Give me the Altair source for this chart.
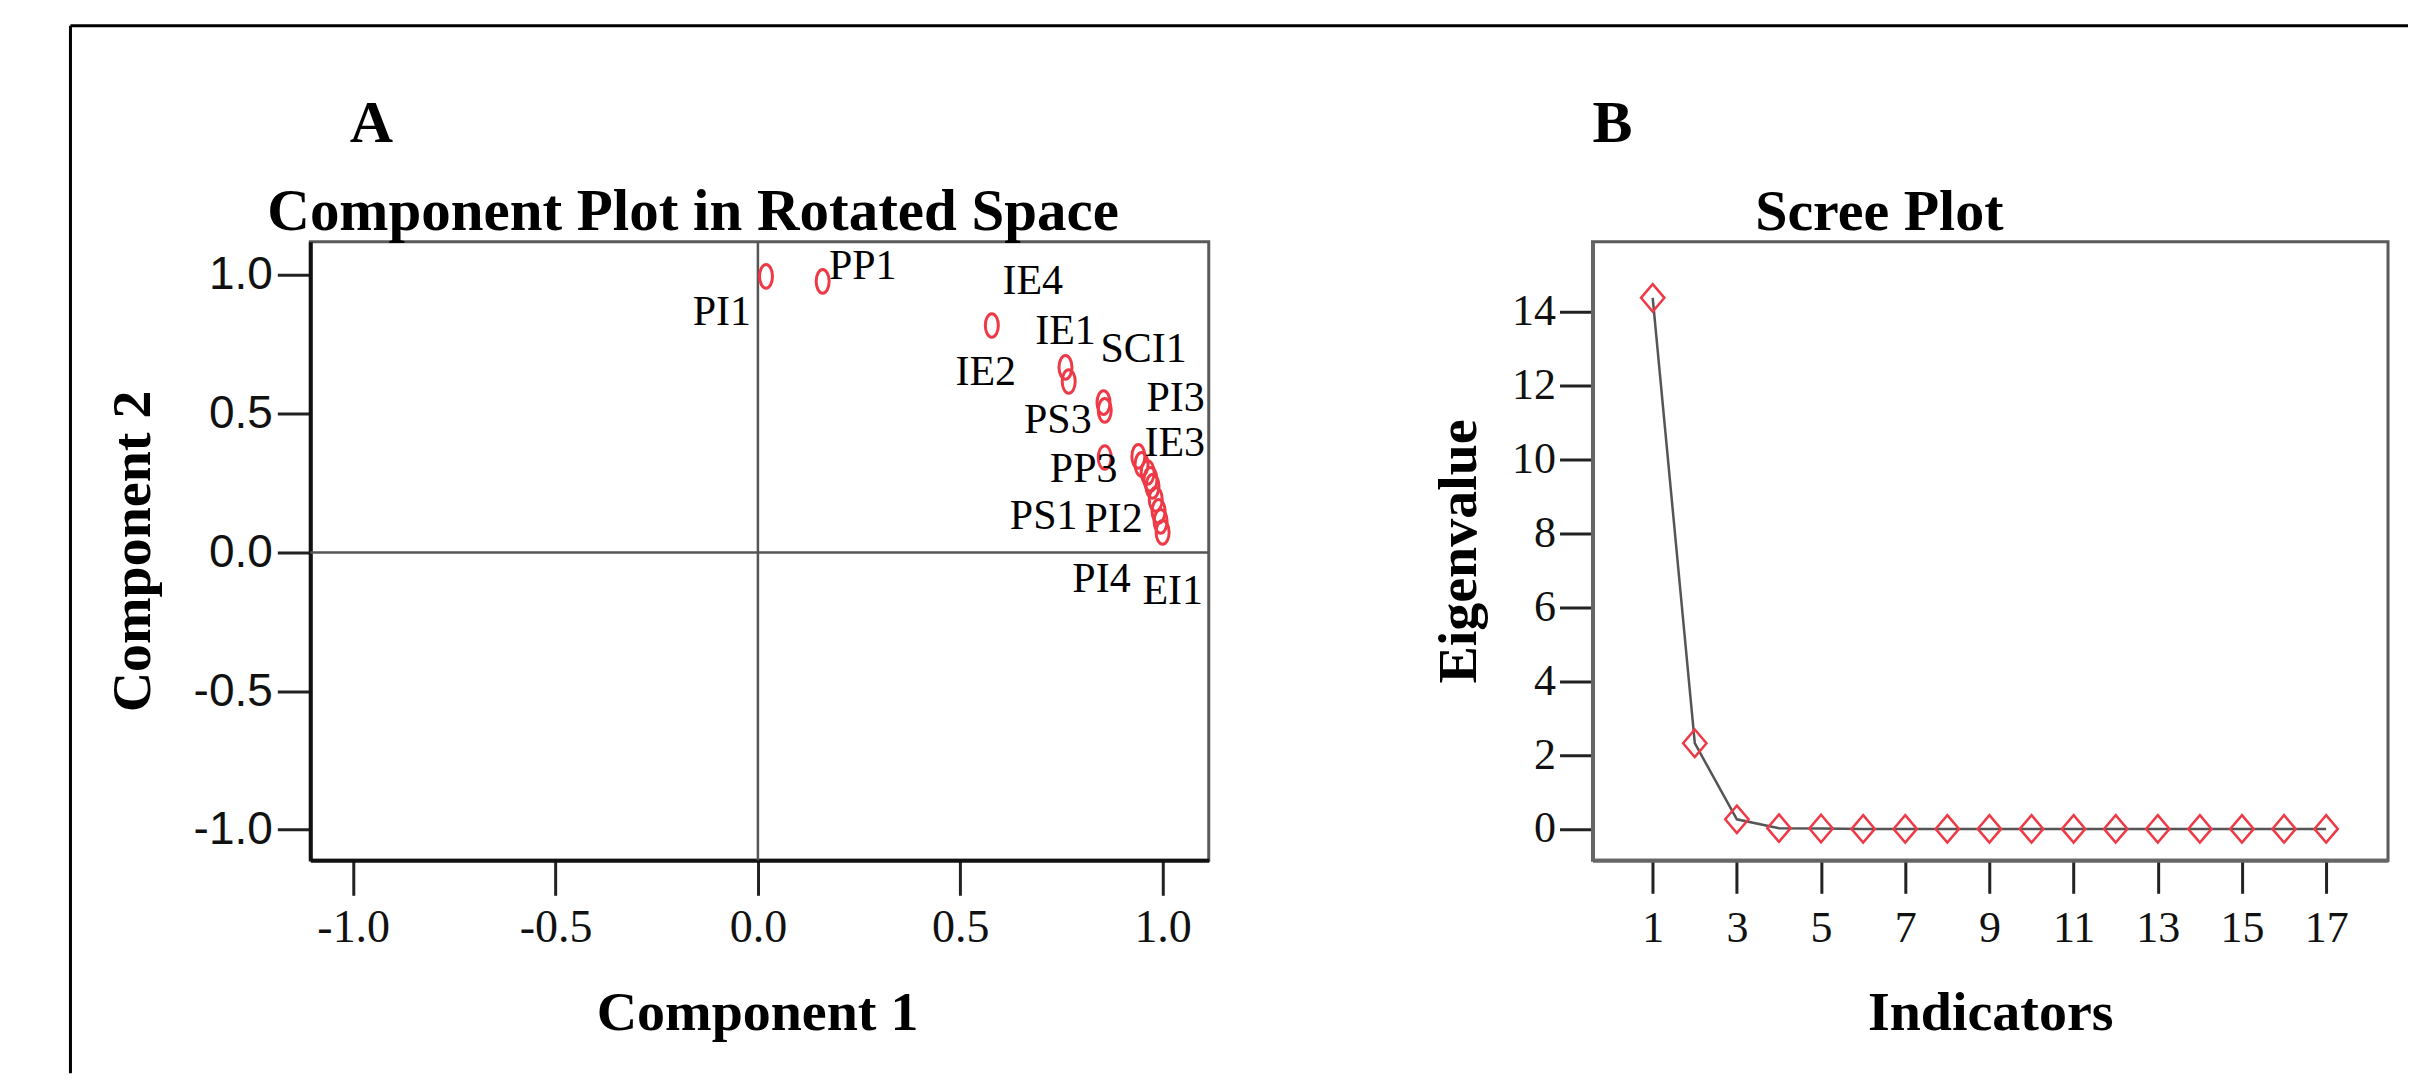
import altair as alt
import pandas as pd

# ---------------- Panel A : Component Plot in Rotated Space ----------------
item_names = ["PI1", "PP1", "IE4", "IE1", "IE2", "SCI1", "PS3", "PP3", "PI3",
              "IE3", "PS1", "PI2", "", "", "PI4", "", "EI1"]
component1 = [0.02, 0.16, 0.578, 0.76, 0.768, 0.854, 0.857, 0.857, 0.94,
              0.948, 0.963, 0.97, 0.975, 0.983, 0.99, 0.995, 1.0]
component2 = [0.995, 0.977, 0.818, 0.667, 0.616, 0.54, 0.512, 0.342, 0.346,
              0.317, 0.288, 0.263, 0.238, 0.191, 0.148, 0.112, 0.072]

label_text = ["PI1", "PP1", "IE4", "IE1", "IE2", "SCI1", "PS3", "PP3", "PI3",
              "IE3", "PS1", "PI2", "PI4", "EI1"]
label_c1 = [-0.089, 0.259, 0.679, 0.760, 0.563, 0.953, 0.741, 0.805, 1.032,
            1.030, 0.706, 0.879, 0.849, 1.025]
label_c2 = [0.818, 0.984, 0.930, 0.750, 0.605, 0.685, 0.432, 0.252, 0.508,
            0.346, 0.086, 0.072, -0.144, -0.187]

ticks_a = [-1.0, -0.5, 0.0, 0.5, 1.0]

# ---------------- Panel B : Scree Plot ----------------
indicators = list(range(1, 18))
eigenvalues = [14.38, 2.32, 0.26, 0.02, 0.01, 0.0, 0.0, 0.0, 0.0,
               0.0, 0.0, 0.0, 0.0, 0.0, 0.0, 0.0, 0.0]
x_ticks_b = [1, 3, 5, 7, 9, 11, 13, 15, 17]
y_ticks_b = [0, 2, 4, 6, 8, 10, 12, 14]

letter_a = "A"
letter_b = "B"
title_a = "Component Plot in Rotated Space"
title_b = "Scree Plot"

# ---------------- styles ----------------
SERIF = "Liberation Serif"
SANS = "Liberation Sans"
RED = "#ee3a46"
W_A, H_A = 899, 619
W_B, H_B = 796, 619
HYPHEN_EXPR = "replace(datum.label, '\u2212', '-')"

k = 0.5523
a = 0.55
ELLIPSE = (f"M0,-1 C{a*k:.4f},-1 {a},{-k} {a},0 C{a},{k} {a*k:.4f},1 0,1 "
           f"C{-a*k:.4f},1 {-a},{k} {-a},0 C{-a},{-k} {-a*k:.4f},-1 0,-1 Z")
DIAMOND = "M0,-1 L0.85,0 L0,1 L-0.85,0 Z"

df_pts = pd.DataFrame({"name": item_names, "c1": component1, "c2": component2})
df_lab = pd.DataFrame({"name": label_text, "c1": label_c1, "c2": label_c2})
df_scree = pd.DataFrame({"ind": indicators, "eig": eigenvalues})
one = pd.DataFrame({"t": [""]})

xs_a = alt.Scale(domain=[-1.106, 1.114], nice=False, zero=False)
ys_a = alt.Scale(domain=[-1.11, 1.12], nice=False, zero=False)

x_axis_a = alt.Axis(values=ticks_a, format=".1f", labelExpr=HYPHEN_EXPR, grid=False,
                    tickSize=35, tickWidth=3,
                    tickColor="#222", domainColor="#111", domainWidth=4,
                    labelFont=SERIF, labelFontSize=46, labelColor="#111", labelPadding=10,
                    labelFlush=False, labelOverlap=False,
                    title="Component 1", titleFont=SERIF, titleFontSize=56,
                    titleFontWeight="bold", titleColor="black", titleX=447, titleY=169,
                    titleAlign="center", titleBaseline="alphabetic")
y_axis_a = alt.Axis(values=ticks_a, format=".1f", labelExpr=HYPHEN_EXPR, grid=False,
                    tickSize=33, tickWidth=3,
                    tickColor="#222", domainColor="#111", domainWidth=4,
                    labelFont=SANS, labelFontSize=46, labelColor="#111", labelPadding=5,
                    labelFlush=False, labelOverlap=False,
                    title="Component 2", titleFont=SERIF, titleFontSize=56,
                    titleFontWeight="bold", titleColor="black", titleAngle=270,
                    titleX=-178, titleY=H_A / 2, titleAlign="center", titleBaseline="middle")

base_a = alt.Chart(df_pts)
points_a = base_a.mark_point(shape=ELLIPSE, size=560, filled=False, color=RED,
                             strokeWidth=3, opacity=1).encode(
    x=alt.X("c1:Q", scale=xs_a, axis=x_axis_a),
    y=alt.Y("c2:Q", scale=ys_a, axis=y_axis_a),
)
zero_v = alt.Chart(pd.DataFrame({"v": [0.0]})).mark_rule(color="#555", strokeWidth=2.5).encode(
    x=alt.X("v:Q", scale=xs_a))
zero_h = alt.Chart(pd.DataFrame({"v": [0.0]})).mark_rule(color="#555", strokeWidth=2.5).encode(
    y=alt.Y("v:Q", scale=ys_a))
labels_a = alt.Chart(df_lab).mark_text(font=SERIF, fontSize=42, color="black",
                                       align="center", baseline="alphabetic").encode(
    x=alt.X("c1:Q", scale=xs_a), y=alt.Y("c2:Q", scale=ys_a), text="name:N")
letter_a_mark = alt.Chart(pd.DataFrame({"t": [letter_a]})).mark_text(
    font=SERIF, fontSize=60, fontWeight="bold", color="black", align="center",
    baseline="alphabetic").encode(x=alt.value(61), y=alt.value(-100), text="t:N")
title_a_mark = alt.Chart(pd.DataFrame({"t": [title_a]})).mark_text(
    font=SERIF, fontSize=59, fontWeight="bold", color="black", align="center",
    baseline="alphabetic").encode(x=alt.value(383), y=alt.value(-12), text="t:N")
frame_left = alt.Chart(one).mark_rule(color="black", strokeWidth=3).encode(
    x=alt.value(-240), y=alt.value(-216), y2=alt.value(832))
frame_top = alt.Chart(one).mark_rule(color="black", strokeWidth=3).encode(
    x=alt.value(-240), x2=alt.value(2099), y=alt.value(-216))

panel_a = alt.layer(zero_v, zero_h, points_a, labels_a, letter_a_mark, title_a_mark,
                    frame_left, frame_top).properties(width=W_A, height=H_A)

# ---------------- Panel B ----------------
xs_b = alt.Scale(domain=[-0.43, 18.47], nice=False, zero=False)
ys_b = alt.Scale(domain=[-0.85, 15.9], nice=False, zero=False)
x_axis_b = alt.Axis(values=x_ticks_b, grid=False, tickSize=33, tickWidth=3,
                    tickColor="#222", domainColor="#666", domainWidth=4,
                    labelFont=SERIF, labelFontSize=44, labelColor="#111", labelPadding=13,
                    labelFlush=False, labelOverlap=False,
                    title="Indicators", titleFont=SERIF, titleFontSize=56,
                    titleFontWeight="bold", titleColor="black", titleX=W_B / 2, titleY=169,
                    titleAlign="center", titleBaseline="alphabetic")
y_axis_b = alt.Axis(values=y_ticks_b, grid=False, tickSize=33, tickWidth=3,
                    tickColor="#222", domainColor="#666", domainWidth=4,
                    labelFont=SERIF, labelFontSize=44, labelColor="#111", labelPadding=4,
                    labelFlush=False, labelOverlap=False,
                    title="Eigenvalue", titleFont=SERIF, titleFontSize=56,
                    titleFontWeight="bold", titleColor="black", titleAngle=270,
                    titleX=-134, titleY=H_B / 2, titleAlign="center", titleBaseline="middle")

base_b = alt.Chart(df_scree).encode(
    x=alt.X("ind:Q", scale=xs_b, axis=x_axis_b),
    y=alt.Y("eig:Q", scale=ys_b, axis=y_axis_b),
)
line_b = base_b.mark_line(color="#555", strokeWidth=2.5)
pts_b = base_b.mark_point(shape=DIAMOND, size=756, filled=False, color=RED,
                          strokeWidth=2.5, opacity=1)
letter_b_mark = alt.Chart(pd.DataFrame({"t": [letter_b]})).mark_text(
    font=SERIF, fontSize=60, fontWeight="bold", color="black", align="center",
    baseline="alphabetic").encode(x=alt.value(20), y=alt.value(-100), text="t:N")
title_b_mark = alt.Chart(pd.DataFrame({"t": [title_b]})).mark_text(
    font=SERIF, fontSize=58, fontWeight="bold", color="black", align="center",
    baseline="alphabetic").encode(x=alt.value(287), y=alt.value(-12), text="t:N")

panel_b = alt.layer(line_b, pts_b, letter_b_mark, title_b_mark).properties(
    width=W_B, height=H_B)

chart = alt.hconcat(panel_a, panel_b, spacing=384, bounds="flush").properties(
    padding={"left": 59.5, "top": 14.5, "right": 0, "bottom": 0},
    background="white",
).configure_view(stroke="#5a5a5a", strokeWidth=3)

chart.save("out.html", embed_options={"renderer": "svg", "actions": False})
